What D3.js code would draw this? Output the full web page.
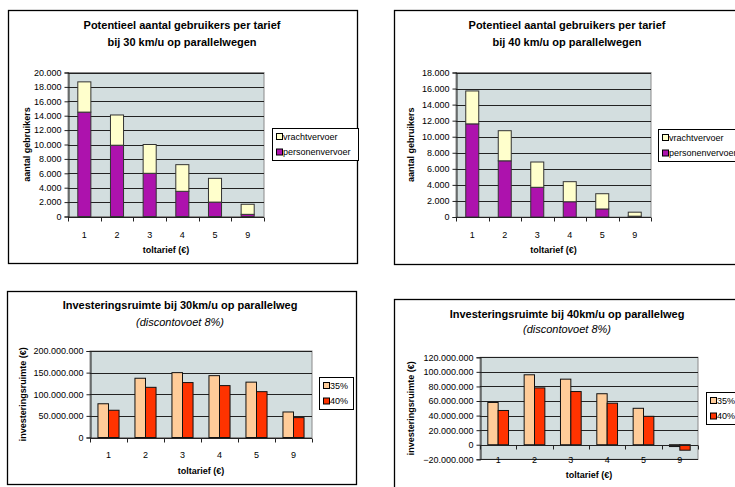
<!DOCTYPE html>
<html><head><meta charset="utf-8">
<script src="https://cdn.jsdelivr.net/npm/d3@7"></script>
<style>body{margin:0;background:#fff;overflow:hidden}svg{display:block;font-family:"Liberation Sans",Arial,sans-serif}</style>
</head><body><svg id="c" width="735" height="487"></svg>
<script>
// ---------- data ----------
const categories = ["1", "2", "3", "4", "5", "9"];
const personen30 = [14500, 9900, 6000, 3500, 2000, 300];
const vracht30   = [4200, 4200, 4000, 3700, 3300, 1400];
const personen40 = [11600, 7000, 3700, 1900, 1000, 100];
const vracht40   = [4100, 3750, 3150, 2500, 1900, 500];
const inv30_35 = [78e6, 137e6, 150e6, 143e6, 128e6, 59e6];
const inv30_40 = [63e6, 116e6, 127e6, 120e6, 106e6, 46e6];
const inv40_35 = [58e6, 96e6, 90e6, 70e6, 50e6, -2.5e6];
const inv40_40 = [47e6, 78e6, 73e6, 57e6, 39e6, -7.5e6];
const ticksUsers30 = [0, 2000, 4000, 6000, 8000, 10000, 12000, 14000, 16000, 18000, 20000];
const ticksUsers40 = [0, 2000, 4000, 6000, 8000, 10000, 12000, 14000, 16000, 18000];
const ticksInv30 = [0, 50e6, 100e6, 150e6, 200e6];
const ticksInv40 = [-20e6, 0, 20e6, 40e6, 60e6, 80e6, 100e6, 120e6];
const stackNames = ["vrachtvervoer", "personenvervoer"];
const clusterNames = ["35%", "40%"];

const loc = d3.formatLocale({decimal: ",", thousands: ".", grouping: [3], currency: ["€", ""]});
const fmt = loc.format(",d");

const COL = {bg: "#d3dedf", purple: "#ad12ad", yellow: "#ffffcc", c35: "#ffcc99", c40: "#ff3300"};
const svg = d3.select("#c");

function panel(cfg) {
  const g = svg.append("g");
  g.append("rect").attr("x", cfg.frame[0] + 0.5).attr("y", cfg.frame[1] + 0.5)
    .attr("width", cfg.frame[2]).attr("height", cfg.frame[3])
    .attr("fill", "#fff").attr("stroke", "#000").attr("stroke-width", 1.3);
  // titles
  cfg.titles.forEach((t, i) => {
    g.append("text").attr("x", cfg.tx).attr("y", cfg.ty[i]).attr("text-anchor", "middle")
      .attr("font-size", 11).attr("font-weight", t.italic ? "normal" : "bold")
      .attr("font-style", t.italic ? "italic" : "normal").attr("fill", "#000").text(t.text);
  });
  const [l, r, t, b] = cfg.plot;
  const y = d3.scaleLinear().domain([cfg.ticks[0], cfg.ticks[cfg.ticks.length - 1]]).range([b, t]);
  const x = d3.scaleBand().domain(categories).range([l, r]).paddingInner(cfg.pi).paddingOuter(cfg.po);
  g.append("rect").attr("x", l).attr("y", t).attr("width", r - l).attr("height", b - t)
    .attr("fill", COL.bg).attr("stroke", "#8a8a8a").attr("stroke-width", 1);
  // gridlines
  g.selectAll(".grid").data(cfg.ticks.filter(v => v !== 0)).join("line")
    .attr("x1", l).attr("x2", r).attr("y1", d => Math.round(y(d)) + 0.5).attr("y2", d => Math.round(y(d)) + 0.5)
    .attr("stroke", "#222").attr("stroke-width", 1);
  // bars
  if (cfg.type === "stack") {
    const rows = categories.map((c, i) => ({cat: c, personen: cfg.s1[i], vracht: cfg.s2[i]}));
    const stack = d3.stack().keys(["personen", "vracht"])(rows);
    const colors = {personen: COL.purple, vracht: COL.yellow};
    stack.forEach(layer => {
      g.selectAll(null).data(layer).join("rect")
        .attr("x", d => x(d.data.cat)).attr("width", x.bandwidth())
        .attr("y", d => y(d[1])).attr("height", d => y(d[0]) - y(d[1]))
        .attr("fill", colors[layer.key]).attr("stroke", "#333").attr("stroke-width", 1);
    });
  } else {
    const inner = d3.scaleBand().domain([0, 1]).range([0, x.bandwidth()]);
    [cfg.s1, cfg.s2].forEach((s, k) => {
      g.selectAll(null).data(s.map((v, i) => ({cat: categories[i], v}))).join("rect")
        .attr("x", d => x(d.cat) + inner(k)).attr("width", inner.bandwidth())
        .attr("y", d => y(Math.max(0, d.v))).attr("height", d => Math.abs(y(d.v) - y(0)))
        .attr("fill", k === 0 ? COL.c35 : COL.c40).attr("stroke", "#111").attr("stroke-width", 1);
    });
  }
  // y axis
  const ya = g.append("g").attr("transform", `translate(${l + 0.5},0)`)
    .call(d3.axisLeft(y).tickValues(cfg.ticks).tickFormat(fmt).tickSizeOuter(0).tickSize(4).tickPadding(3));
  ya.select(".domain").attr("stroke", "#222");
  ya.selectAll(".tick line").attr("stroke", "#222");
  ya.selectAll("text").attr("font-size", 9).attr("fill", "#000").attr("font-family", "Liberation Sans, Arial, sans-serif");
  // x axis at zero
  const y0 = Math.round(y(0)) + 0.5;
  g.append("line").attr("x1", l).attr("x2", r).attr("y1", y0).attr("y2", y0).attr("stroke", "#222");
  const bounds = d3.range(categories.length + 1).map(i => l + i * x.step());
  g.selectAll(null).data(bounds).join("line")
    .attr("x1", d => Math.round(d) + 0.5).attr("x2", d => Math.round(d) + 0.5)
    .attr("y1", y0).attr("y2", y0 + 4).attr("stroke", "#222");
  g.selectAll(null).data(categories).join("text")
    .attr("x", d => x(d) + x.bandwidth() / 2).attr("y", y0 + cfg.catDy)
    .attr("text-anchor", "middle").attr("font-size", 9).attr("fill", "#000").text(d => d);
  g.append("text").attr("x", (l + r) / 2).attr("y", cfg.xTitleY).attr("text-anchor", "middle")
    .attr("font-size", 9).attr("font-weight", "bold").text("toltarief (€)");
  g.append("text").attr("transform", `translate(${cfg.yTitleX},${(t + b) / 2}) rotate(-90)`)
    .attr("text-anchor", "middle").attr("font-size", 9).attr("font-weight", "bold").text(cfg.yTitle);
  // legend
  const [lx, ly, lw, lh] = cfg.legend;
  g.append("rect").attr("x", lx + 0.5).attr("y", ly + 0.5).attr("width", lw).attr("height", lh)
    .attr("fill", "#fff").attr("stroke", "#000");
  cfg.legendItems.forEach((it, i) => {
    const cy = ly + 8.5 + i * 15.5;
    g.append("rect").attr("x", lx + 4.5).attr("y", cy - 3).attr("width", 6).attr("height", 6)
      .attr("fill", it.color).attr("stroke", "#000").attr("stroke-width", 1);
    g.append("text").attr("x", lx + 11).attr("y", cy + 3.2).attr("font-size", 9).attr("fill", "#000").text(it.name);
  });
}

panel({
  frame: [8, 10, 349, 253], titles: [{text: "Potentieel aantal gebruikers per tarief"}, {text: "bij 30 km/u op parallelwegen"}],
  tx: 182, ty: [29, 46], plot: [68, 264, 72.5, 216.5], ticks: ticksUsers30, type: "stack", s1: personen30, s2: vracht30,
  pi: 0.6, po: 0.3, catDy: 20, xTitleY: 253, yTitleX: 30, yTitle: "aantal gebruikers",
  legend: [272, 128, 86, 32], legendItems: [{name: stackNames[0], color: COL.yellow}, {name: stackNames[1], color: COL.purple}]
});
panel({
  frame: [394, 10, 360, 254], titles: [{text: "Potentieel aantal gebruikers per tarief"}, {text: "bij 40 km/u op parallelwegen"}],
  tx: 567, ty: [29, 46], plot: [456, 651, 72.5, 217], ticks: ticksUsers40, type: "stack", s1: personen40, s2: vracht40,
  pi: 0.6, po: 0.3, catDy: 20, xTitleY: 253, yTitleX: 414, yTitle: "aantal gebruikers",
  legend: [658, 129, 90, 32], legendItems: [{name: stackNames[0], color: COL.yellow}, {name: stackNames[1], color: COL.purple}]
});
panel({
  frame: [7, 291, 349, 193], titles: [{text: "Investeringsruimte bij 30km/u op parallelweg"}, {text: "(discontovoet 8%)", italic: true}],
  tx: 180, ty: [309, 326], plot: [90, 312, 351, 437.5], ticks: ticksInv30, type: "cluster", s1: inv30_35, s2: inv30_40,
  pi: 0.43, po: 0.215, catDy: 19, xTitleY: 474, yTitleX: 26, yTitle: "investeringsruimte (€)",
  legend: [319, 377, 34, 32], legendItems: [{name: clusterNames[0], color: COL.c35}, {name: clusterNames[1], color: COL.c40}]
});
panel({
  frame: [394, 299, 360, 200], titles: [{text: "Investeringsruimte bij 40km/u op parallelweg"}, {text: "(discontovoet 8%)", italic: true}],
  tx: 567, ty: [318, 333], plot: [480, 698, 357.3, 459.3], ticks: ticksInv40, type: "cluster", s1: inv40_35, s2: inv40_40,
  pi: 0.43, po: 0.215, catDy: 17, xTitleY: 478, yTitleX: 414, yTitle: "investeringsruimte (€)",
  legend: [706, 392, 40, 32], legendItems: [{name: clusterNames[0], color: COL.c35}, {name: clusterNames[1], color: COL.c40}]
});
</script></body></html>
